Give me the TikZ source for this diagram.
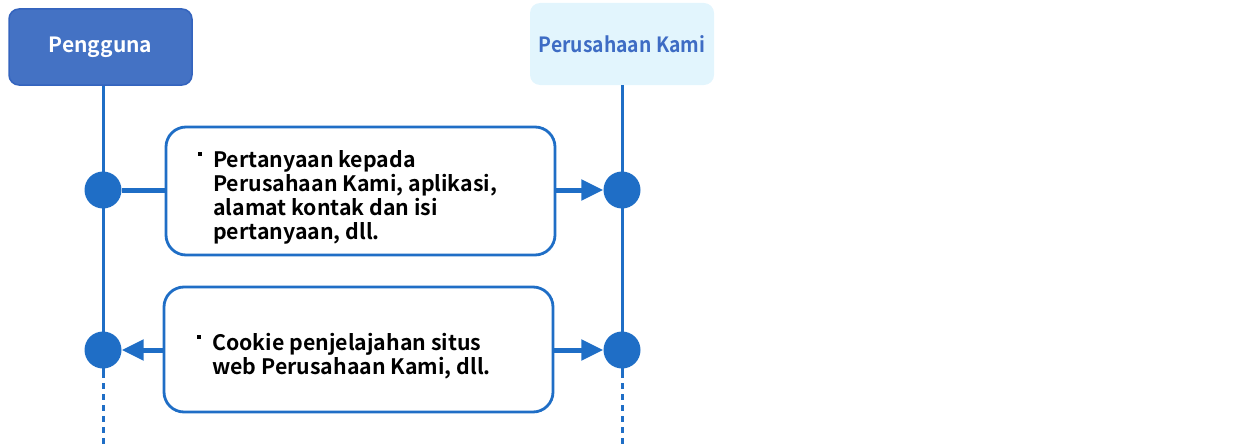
\documentclass[tikz,border=0pt]{standalone}
\usepackage{fontspec}
\setmainfont{Noto Sans CJK JP}[BoldFont={Noto Sans CJK JP Bold}]
\newfontfamily\narrowfont{Noto Sans CJK JP Bold}[FakeStretch=0.92]
\usetikzlibrary{arrows.meta}
\definecolor{lineblue}{RGB}{31,110,198}
\definecolor{headblue}{RGB}{68,114,196}
\definecolor{headedge}{RGB}{52,100,190}
\definecolor{lightcyan}{RGB}{226,245,253}
\definecolor{textblue}{RGB}{62,108,196}
\newcommand{\blt}{\makebox[15pt][l]{\raisebox{11.5pt}{\rule{4pt}{4pt}}}}
\begin{document}
\begin{tikzpicture}[x=1pt,y=-1pt,
  head/.style={rounded corners=10pt, minimum width=183pt, minimum height=76pt, font=\fontsize{21}{24}\selectfont\bfseries, inner sep=0pt},
  msgbox/.style={draw=lineblue, line width=2.8pt, fill=white, rounded corners=20pt, inner sep=0pt},
  life/.style={draw=lineblue, line width=3pt},
  dot/.style={circle, fill=lineblue, minimum size=37pt, inner sep=0pt},
  conn/.style={draw=lineblue, line width=5pt},
  arr/.style={conn, -{Triangle[length=22pt,width=20pt]}},
  msgtext/.style={font=\fontsize{21.3}{24}\selectfont\bfseries, align=left, inner sep=0pt, anchor=north west}
]
\useasboundingbox (0,0) rectangle (1244,444);
% headers
\node[head, fill=headblue, draw=headedge, line width=1.5pt, text=white] (user) at (100.5,47) {Pengguna};
\node[head, fill=lightcyan, text=textblue, minimum height=82pt, minimum width=184pt, font=\fontsize{21}{24}\selectfont\narrowfont] (comp) at (622,44) {Perusahaan Kami};
% lifeline coordinates
\coordinate (uend) at (103,372);
\coordinate (cend) at (622,372);
\coordinate (ubot) at (103,444);
\coordinate (cbot) at (622,444);
\draw[life] (user.south -| uend) -- (uend);
\draw[life] (comp.south -| cend) -- (cend);
\draw[life, dash pattern=on 6pt off 5pt] (uend) -- (ubot);
\draw[life, dash pattern=on 6pt off 5pt] (cend) -- (cbot);
% dots
\node[dot] (u1) at (103,190) {};
\node[dot] (c1) at (622,190) {};
\node[dot] (u2) at (103,350) {};
\node[dot] (c2) at (622,350) {};
% message boxes
\node[msgbox, minimum width=389pt, minimum height=128pt] (m1) at (360.5,191) {};
\node[msgbox, minimum width=389pt, minimum height=125pt] (m2) at (358.5,349.5) {};
\node[msgtext] (t1) at (198,150) {\blt Pertanyaan kepada\\\hspace*{15pt}Perusahaan Kami, aplikasi,\\\hspace*{15pt}alamat kontak dan isi\\\hspace*{15pt}pertanyaan, dll.};
\node[msgtext] (t2) at (197,333) {\blt Cookie penjelajahan situs\\\hspace*{15pt}web Perusahaan Kami, dll.};
% connectors
\draw[conn] (m1.west |- u1) -- (u1.east);
\draw[arr] (m1.east |- c1) -- (c1.west);
\draw[arr] (m2.west |- u2) -- (u2.east);
\draw[arr] (m2.east |- c2) -- (c2.west);
\end{tikzpicture}
\end{document}
